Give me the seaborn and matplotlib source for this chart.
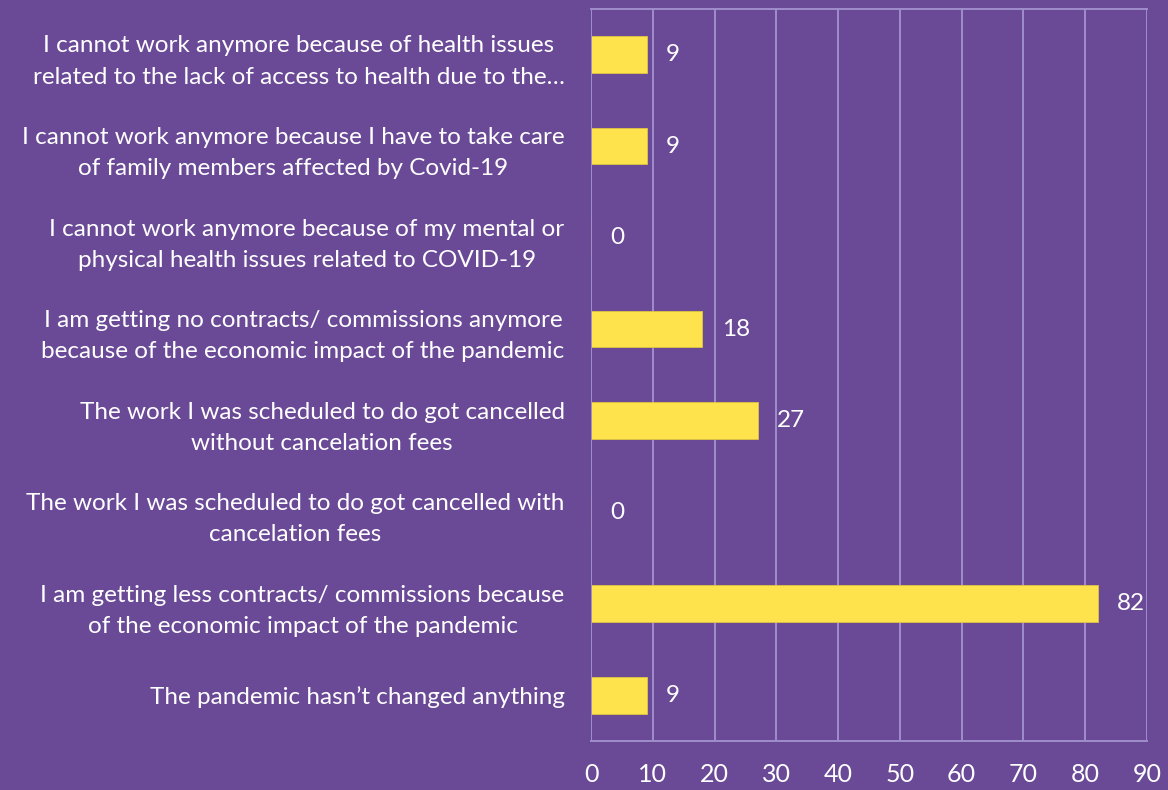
import numpy as np
import pandas as pd
import matplotlib.pyplot as plt
import seaborn as sns

# answers to the covid work impact question
categories = [
    "I cannot work anymore because of health issues\nrelated to the lack of access to health due to the\u2026",
    "I cannot work anymore because I have to take care\nof family members affected by Covid-19",
    "I cannot work anymore because of my mental or\nphysical health issues related to COVID-19",
    "I am getting no contracts/ commissions anymore\nbecause of the economic impact of the pandemic",
    "The work I was scheduled to do got cancelled\nwithout cancelation fees",
    "The work I was scheduled to do got cancelled with\ncancelation fees",
    "I am getting less contracts/ commissions because\nof the economic impact of the pandemic",
    "The pandemic hasn\u2019t changed anything",
]
counts = [9, 9, 0, 18, 27, 0, 82, 9]
xticks = [0, 10, 20, 30, 40, 50, 60, 70, 80, 90]

BG = '#6a4a97'
LINE = '#a08dcc'
BAR = '#ffe34d'

sns.set_style("white")
plt.rcParams['font.family'] = ['Lato', 'DejaVu Sans']

df = pd.DataFrame({'answer': categories, 'count': counts})

fig = plt.figure(figsize=(11.68, 7.9), dpi=100, facecolor=BG)
ax = fig.add_axes([0.506, 0.062, 0.476, 0.927], facecolor=BG)

sns.barplot(data=df, x='count', y='answer', orient='h', color=BAR,
            saturation=1, width=0.4, edgecolor='#e0c440', linewidth=0.6,
            ax=ax, zorder=3)
ax.bar_label(ax.containers[0], padding=14, color='white', fontsize=17.5)

ax.set_xlim(0, 90)
ax.set_ylim(len(categories) - 0.5, -0.5)
ax.set_xticks(xticks)
ax.grid(axis='x', color=LINE, linewidth=1.4, zorder=0)
ax.set_xlabel('')
ax.set_ylabel('')

for s in ['left', 'right']:
    ax.spines[s].set_visible(False)
for s in ['top', 'bottom']:
    ax.spines[s].set_color(LINE)
    ax.spines[s].set_linewidth(1.4)
ax.axvline(0, color=LINE, linewidth=1.4, zorder=4)

ax.set_yticks(np.arange(-0.5, len(categories), 1.0), minor=True)
ax.tick_params(axis='y', which='major', length=0, pad=19, labelsize=17.5,
               labelcolor='white')
ax.tick_params(axis='y', which='minor', length=6, color=LINE, width=1.4,
               direction='out')
ax.tick_params(axis='x', length=6, color=LINE, width=1.4, direction='out',
               labelsize=18, labelcolor='white', pad=10)
for t in ax.get_yticklabels():
    t.set_multialignment('center')
    t.set_linespacing(1.6)

fig.savefig('out.png', dpi=100, facecolor=BG)
